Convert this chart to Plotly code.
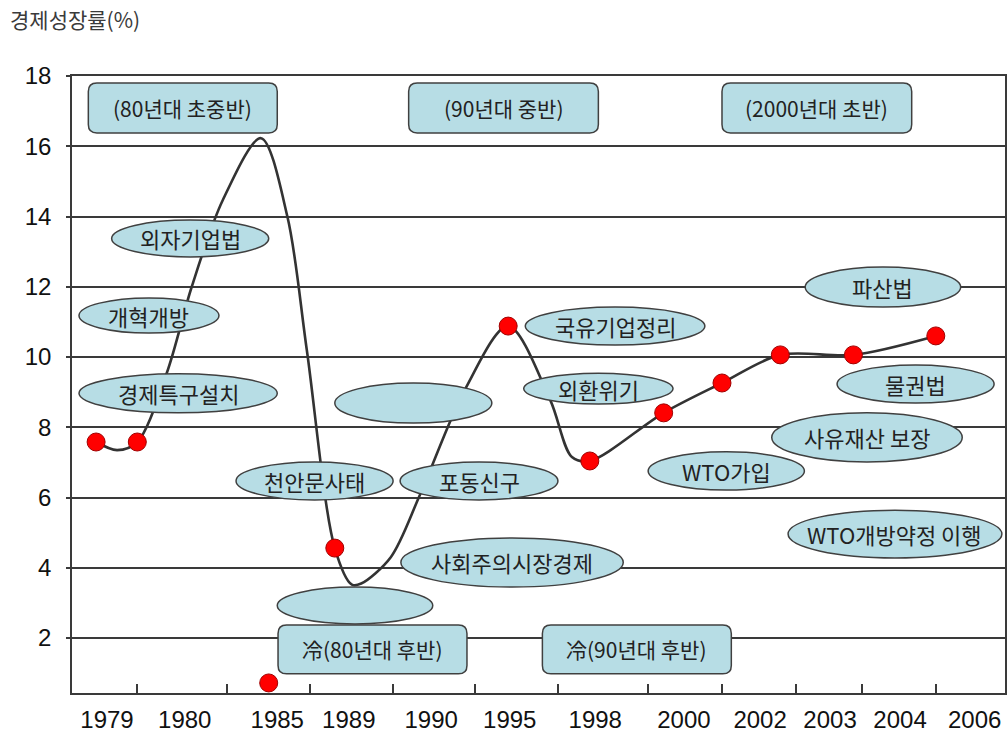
import plotly.graph_objects as go

# ---------------- data ----------------
categories = ["1979", "1980", "1985", "1989", "1990", "1995", "1998",
              "2000", "2002", "2003", "2004", "2006"]
# label / tick positions along the x axis (slot units, 0..12)
label_pos = [0.45, 1.45, 2.64, 3.56, 4.62, 5.63, 6.73, 7.87, 8.85, 9.75, 10.65, 11.61]
tick_pos = [0.84, 1.99, 3.06, 4.13, 5.18, 6.25, 7.41, 8.36, 9.31, 10.16, 11.11]

# red growth-rate points
point_x = [0.31, 0.84, 2.53, 3.38, 5.61, 6.66, 7.61, 8.36, 9.11, 10.05, 11.11]
point_y = [7.58, 7.58, 0.72, 4.56, 10.88, 7.04, 8.41, 9.26, 10.06, 10.06, 10.60]

# smooth growth curve
curve_x = [0.31, 0.58, 0.84, 1.22, 1.54, 1.94, 2.43, 2.77, 3.02, 3.38, 3.60, 3.72,
           4.10, 4.48, 5.06, 5.61, 6.15, 6.43, 6.66, 7.61, 8.36, 9.11, 10.05, 11.11]
curve_y = [7.58, 7.35, 7.58, 9.55, 12.0, 14.47, 16.23, 14.0, 10.2, 4.56, 3.52, 3.55,
           4.30, 6.10, 9.10, 10.88, 8.78, 7.15, 7.04, 8.41, 9.26, 10.06, 10.06, 10.60]

y_ticks = [2, 4, 6, 8, 10, 12, 14, 16, 18]

# ellipse call-outs: text, x0, x1, y0, y1
ellipse_text = ["외자기업법", "개혁개방", "경제특구설치", "", "천안문사태", "포동신구",
                "사회주의시장경제", "", "파산법", "국유기업정리", "외환위기", "물권법",
                "사유재산 보장", "WTO가입", "WTO개방약정 이행"]
ellipse_x0 = [0.51, 0.09, 0.09, 3.38, 2.11, 4.22, 4.23, 2.64, 9.43, 5.83, 5.81, 9.84, 9.00, 7.41, 9.21]
ellipse_x1 = [2.53, 1.89, 2.64, 5.40, 4.13, 6.25, 7.09, 4.64, 11.43, 8.14, 7.73, 11.86, 11.45, 9.42, 11.96]
ellipse_y0 = [12.85, 10.68, 8.41, 8.12, 5.93, 5.93, 3.45, 2.40, 11.42, 10.34, 8.66, 8.69, 7.01, 6.21, 4.28]
ellipse_y1 = [13.90, 11.68, 9.52, 9.26, 7.01, 7.01, 4.85, 3.45, 12.56, 11.42, 9.54, 9.77, 8.41, 7.30, 5.64]

# rounded period boxes: text, x0, x1, y0, y1
box_text = ["(80년대 초중반)", "(90년대 중반)", "(2000년대 초반)", "冷(80년대 후반)", "冷(90년대 후반)"]
box_x0 = [0.21, 4.33, 8.36, 2.65, 6.05]
box_x1 = [2.64, 6.77, 10.80, 5.08, 8.48]
box_y0 = [16.38, 16.38, 16.38, 0.98, 0.98]
box_y1 = [17.80, 17.80, 17.80, 2.37, 2.37]

# ---------------- styles ----------------
FILL = "#B7DDE5"
EDGE = "#404040"
GRID = "#3a3a3a"
KFONT = "Noto Sans CJK KR, Noto Sans, sans-serif"
NFONT = "Liberation Sans, Arial, sans-serif"

fig = go.Figure()

fig.add_trace(go.Scatter(
    x=curve_x, y=curve_y, mode="lines",
    line=dict(color="#333333", width=2.6, shape="spline", smoothing=0.9),
    hoverinfo="skip", showlegend=False))

fig.add_trace(go.Scatter(
    x=point_x, y=point_y, mode="markers",
    marker=dict(color="#FF0000", size=18, line=dict(color="#A00000", width=1)),
    showlegend=False))

# invisible trace to activate the tick-mark axis
fig.add_trace(go.Scatter(x=[point_x[0]], y=[point_y[0]], xaxis="x2", mode="markers",
                         marker=dict(opacity=0), hoverinfo="skip", showlegend=False))

shapes = []
annotations = []
for t, x0, x1, y0, y1 in zip(ellipse_text, ellipse_x0, ellipse_x1, ellipse_y0, ellipse_y1):
    shapes.append(dict(type="circle", xref="x", yref="y", x0=x0, x1=x1, y0=y0, y1=y1,
                       fillcolor=FILL, line=dict(color=EDGE, width=1.5), layer="above"))
    if t:
        annotations.append(dict(x=(x0 + x1) / 2, y=(y0 + y1) / 2, xref="x", yref="y",
                                text=t, showarrow=False,
                                font=dict(family=KFONT, size=22, color="#222222")))

rx, ry = 0.11, 0.24
for t, x0, x1, y0, y1 in zip(box_text, box_x0, box_x1, box_y0, box_y1):
    path = (f"M {x0+rx},{y0} L {x1-rx},{y0} Q {x1},{y0} {x1},{y0+ry} "
            f"L {x1},{y1-ry} Q {x1},{y1} {x1-rx},{y1} L {x0+rx},{y1} "
            f"Q {x0},{y1} {x0},{y1-ry} L {x0},{y0+ry} Q {x0},{y0} {x0+rx},{y0} Z")
    shapes.append(dict(type="path", xref="x", yref="y", path=path,
                       fillcolor=FILL, line=dict(color=EDGE, width=1.5), layer="above"))
    annotations.append(dict(x=(x0 + x1) / 2, y=(y0 + y1) / 2, xref="x", yref="y",
                            text=t, showarrow=False,
                            font=dict(family=KFONT, size=21, color="#222222")))

annotations.append(dict(x=-0.069, y=1.093, xref="paper", yref="paper",
                        xanchor="left", yanchor="middle", text="경제성장률(%)",
                        showarrow=False, font=dict(family=KFONT, size=21, color="#3a3a3a")))

fig.update_layout(
    width=1008, height=736,
    margin=dict(l=72, r=3, t=76, b=43),
    paper_bgcolor="white", plot_bgcolor="white",
    showlegend=False,
    shapes=shapes, annotations=annotations,
    xaxis=dict(range=[0, 12], tickvals=label_pos, ticktext=categories,
               ticks="", showgrid=False, zeroline=False, tickangle=0,
               automargin=False, ticklabeloverflow="allow",
               showline=True, linecolor=GRID, linewidth=1.5, mirror=True,
               ticklabelstandoff=4,
               tickfont=dict(family=NFONT, size=24, color="#111111")),
    xaxis2=dict(range=[0, 12], overlaying="x", anchor="y", side="bottom",
                tickvals=tick_pos, ticks="inside", ticklen=9, tickwidth=1.5,
                tickcolor=GRID, showticklabels=False, showgrid=False,
                zeroline=False, showline=False, automargin=False),
    yaxis=dict(range=[0.434, 18], tickvals=y_ticks, ticks="outside", ticklen=4,
               tickcolor=GRID, tickwidth=1.5, automargin=False,
               showgrid=True, gridcolor=GRID, gridwidth=1.5, zeroline=False,
               showline=True, linecolor=GRID, linewidth=1.5, mirror=True,
               ticklabelstandoff=10,
               tickfont=dict(family=NFONT, size=24, color="#111111")),
)

fig.write_html("out.html")
